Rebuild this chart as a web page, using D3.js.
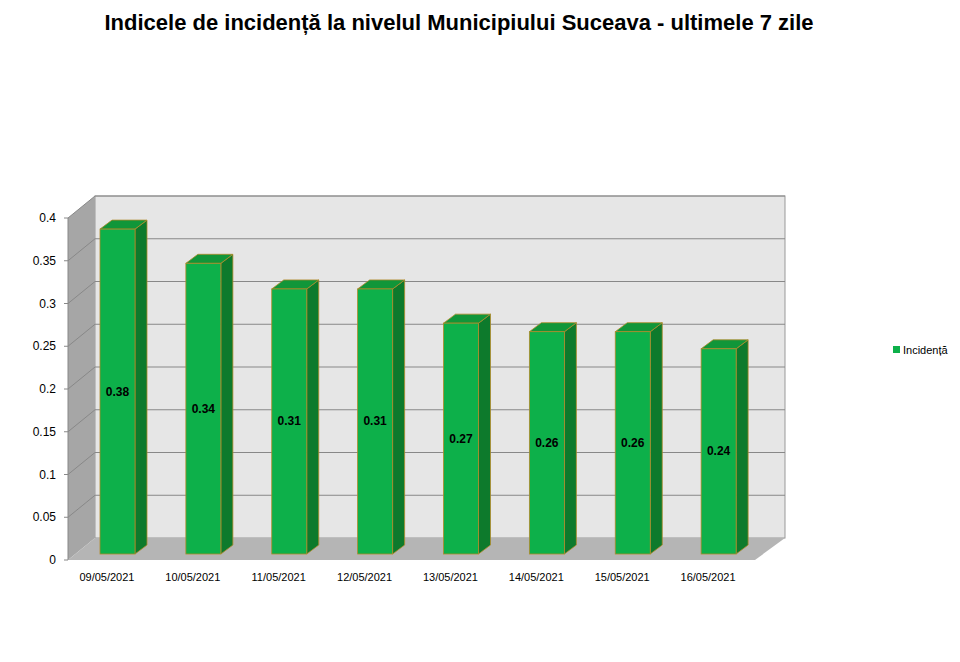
<!DOCTYPE html>
<html><head><meta charset="utf-8">
<script src="https://cdn.jsdelivr.net/npm/d3@7"></script>
<style>body{margin:0;background:#fff}</style>
</head><body><div id="chart"></div>
<script>
const dates = ["09/05/2021","10/05/2021","11/05/2021","12/05/2021","13/05/2021","14/05/2021","15/05/2021","16/05/2021"];
const values = [0.38,0.34,0.31,0.31,0.27,0.26,0.26,0.24];
const ticks = [0,0.05,0.1,0.15,0.2,0.25,0.3,0.35,0.4];

const W = 960, H = 662;
const svg = d3.select("#chart").append("svg").attr("width", W).attr("height", H);

// front plane geometry
const x0 = 68, x1 = 755, dX = 27, dY = -22;
const y = d3.scaleLinear().domain([0, 0.4]).range([560, 218]);
const x = d3.scaleBand().domain(dates).range([x0, x1]);

svg.append("text").attr("x", 459).attr("y", 30).attr("text-anchor", "middle")
    .style("font", "bold 22px 'Liberation Sans', Arial, sans-serif").text("Indicele de incidență la nivelul Municipiului Suceava - ultimele 7 zile");

// back wall
svg.append("rect").attr("x", x0 + dX).attr("y", y(0.4) + dY)
    .attr("width", x1 - x0 + 3).attr("height", y(0) - y(0.4))
    .attr("fill", "#e6e6e6").attr("stroke", "#999");
// left wall
svg.append("path").attr("d", `M${x0},${y(0.4)}L${x0+dX},${y(0.4)+dY}L${x0+dX},${y(0)+dY}L${x0},${y(0)}Z`)
    .attr("fill", "#a6a6a6");
// floor
svg.append("path").attr("d", `M${x0},${y(0)}L${x0+dX},${y(0)+dY}L${x1+dX+3},${y(0)+dY}L${x1},${y(0)}Z`)
    .attr("fill", "#b5b5b5");

// gridlines
ticks.forEach(t => {
    if (t > 0) {
        svg.append("line").attr("x1", x0+dX).attr("x2", x1+dX+3).attr("y1", y(t)+dY).attr("y2", y(t)+dY).attr("stroke", "#888");
        svg.append("line").attr("x1", x0).attr("x2", x0+dX).attr("y1", y(t)).attr("y2", y(t)+dY).attr("stroke", "#888");
    }
    svg.append("line").attr("x1", x0-4).attr("x2", x0).attr("y1", y(t)).attr("y2", y(t)).attr("stroke", "#888");
    svg.append("text").attr("x", x0-12).attr("y", y(t)+4).attr("text-anchor", "end")
        .style("font", "12px 'Liberation Sans', Arial, sans-serif").text(t);
});
svg.append("line").attr("x1", x0).attr("x2", x0).attr("y1", y(0)).attr("y2", y(0.4)).attr("stroke", "#888");

// bars
const bw = 35, bx = 6, by = -6, tdx = 12, tdy = -9;
const g = svg.selectAll(".bar").data(dates.map((d, i) => ({d, v: values[i]}))).join("g");
g.each(function(p) {
    const s = d3.select(this);
    const L = x(p.d) + 26 + bx, R = L + bw, T = y(p.v) + by, B = y(0) + by;
    s.append("path").attr("d", `M${R},${T}L${R+tdx},${T+tdy}L${R+tdx},${B+tdy}L${R},${B}Z`)
        .attr("fill", "#0d7a2c").attr("stroke", "#b08a2a").attr("stroke-width", 0.8);
    s.append("path").attr("d", `M${L},${T}L${L+tdx},${T+tdy}L${R+tdx},${T+tdy}L${R},${T}Z`)
        .attr("fill", "#119639").attr("stroke", "#b08a2a").attr("stroke-width", 0.8);
    s.append("rect").attr("x", L).attr("y", T).attr("width", bw).attr("height", B - T)
        .attr("fill", "#0db04a").attr("stroke", "#b08a2a").attr("stroke-width", 0.8);
    s.append("text").attr("x", L + bw/2).attr("y", (T + B)/2 + 4).attr("text-anchor", "middle")
        .style("font", "bold 12px 'Liberation Sans', Arial, sans-serif").text(p.v);
});

// x labels
svg.selectAll(".xl").data(dates).join("text")
    .attr("x", d => x(d) + x.bandwidth()/2 - 4).attr("y", 581).attr("text-anchor", "middle")
    .style("font", "11px 'Liberation Sans', Arial, sans-serif").text(d => d);

// legend
svg.append("rect").attr("x", 893).attr("y", 346).attr("width", 7).attr("height", 7).attr("fill", "#0db04a");
svg.append("text").attr("x", 903).attr("y", 354)
    .style("font", "11px 'Liberation Sans', Arial, sans-serif").text("Incidență");
</script></body></html>
